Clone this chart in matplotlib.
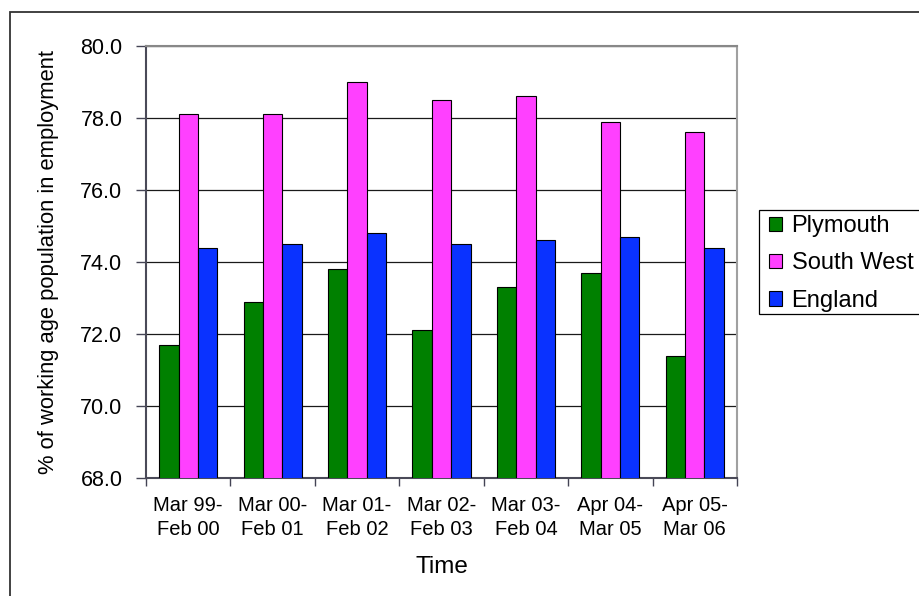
import matplotlib
matplotlib.use("Agg")
import matplotlib.pyplot as plt
from matplotlib.patches import Rectangle, Patch
import numpy as np

# Employment rate of the working age population, by period
periods = ["Mar 99-\nFeb 00", "Mar 00-\nFeb 01", "Mar 01-\nFeb 02", "Mar 02-\nFeb 03",
           "Mar 03-\nFeb 04", "Apr 04-\nMar 05", "Apr 05-\nMar 06"]
plymouth = [71.7, 72.9, 73.8, 72.1, 73.3, 73.7, 71.4]
south_west = [78.1, 78.1, 79.0, 78.5, 78.6, 77.9, 77.6]
england = [74.4, 74.5, 74.8, 74.5, 74.6, 74.7, 74.4]
series_names = ["Plymouth", "South West", "England"]
y_ticks = [68.0, 70.0, 72.0, 74.0, 76.0, 78.0, 80.0]

colors = ["#008000", "#FF40FF", "#0A32FF"]

plt.rcParams["font.family"] = ["Liberation Sans", "DejaVu Sans"]

W, H = 920, 596
fig = plt.figure(figsize=(W / 100, H / 100), dpi=100)
fig.patch.set_facecolor("white")

# outer chart frame (runs off the right and bottom edges)
fig.add_artist(Rectangle((10 / W, -0.05), 1.0, 1 - 12 / H + 0.05,
                         transform=fig.transFigure, fill=False,
                         edgecolor="#333333", linewidth=1.3))

left, right, top, bottom = 146, 737, 46, 478
ax = fig.add_axes([left / W, 1 - bottom / H, (right - left) / W, (bottom - top) / H])

x = np.arange(len(periods))
bw = 0.23
for i, (vals, name) in enumerate(zip([plymouth, south_west, england], series_names)):
    ax.bar(x + (i - 1) * bw, vals, width=bw, color=colors[i], edgecolor="black",
           linewidth=0.8, zorder=3, label=name)

ax.set_ylim(68, 80)
ax.set_xlim(-0.5, len(periods) - 0.5)
ax.set_yticks(y_ticks)
ax.set_yticklabels([f"{v:.1f}" for v in y_ticks])
ax.yaxis.grid(True, color="#1a1a1a", linewidth=0.9, zorder=1)
ax.set_axisbelow(True)

# category boundaries carry the ticks, category centres carry the labels
ax.set_xticks(np.arange(len(periods) + 1) - 0.5)
ax.set_xticklabels([])
ax.set_xticks(x, minor=True)
ax.set_xticklabels(periods, minor=True, fontsize=14.5, linespacing=1.35)
ax.tick_params(axis="x", which="minor", length=0, pad=13)
ax.tick_params(axis="x", which="major", length=6, width=1, color="#444455", direction="out")
ax.tick_params(axis="y", length=7, width=1, color="#444455", labelsize=15.5, pad=10)

for s in ["left", "bottom"]:
    ax.spines[s].set_color("#4a4a58")
    ax.spines[s].set_linewidth(1.5)
ax.spines["top"].set_color("#888888")
ax.spines["right"].set_color("#a0a0a0")
ax.spines["top"].set_linewidth(1.5)
ax.spines["right"].set_linewidth(1.5)

ax.set_ylabel("% of working age population in employment", fontsize=15.8, labelpad=15)
ax.set_xlabel("Time", fontsize=17.5, labelpad=12)

# legend box, running off the right edge
fig.add_artist(Rectangle((759 / W, 1 - 314 / H), 0.3, (314 - 210) / H,
                         transform=fig.transFigure, facecolor="white",
                         edgecolor="black", linewidth=0.9))
handles = [Patch(facecolor=c, edgecolor="black", linewidth=0.8) for c in colors]
fig.legend(handles, series_names, loc="upper left",
           bbox_to_anchor=(762 / W, 1 - 208 / H), frameon=False, fontsize=17,
           handlelength=0.55, handleheight=0.55, handletextpad=0.4,
           labelspacing=0.65, borderpad=0.3, borderaxespad=0)

fig.savefig("out.png", dpi=100)
